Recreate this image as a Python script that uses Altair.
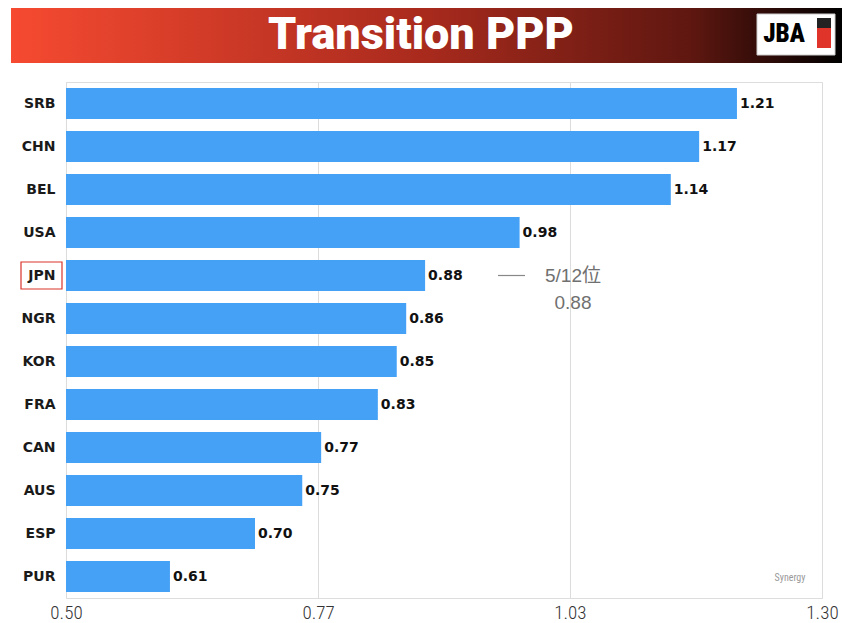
import altair as alt
import pandas as pd

teams = ["SRB", "CHN", "BEL", "USA", "JPN", "NGR", "KOR", "FRA", "CAN", "AUS", "ESP", "PUR"]
values = [1.21, 1.17, 1.14, 0.98, 0.88, 0.86, 0.85, 0.83, 0.77, 0.75, 0.70, 0.61]
x_ticks = [0.50, 0.7667, 1.0333, 1.30]
title_text = "Transition PPP"
highlight = "JPN"
rank_text = "5/12位"
rank_value = "0.88"
source_text = "Synergy"

df = pd.DataFrame({"team": teams, "value": values})
hl = pd.DataFrame({"team": [highlight], "r1": [rank_text], "r2": [rank_value]})
one = pd.DataFrame({"a": [1]})

W, H = 756, 516

yenc = alt.Y("team:N", sort=teams, title=None,
             scale=alt.Scale(paddingInner=0.28, paddingOuter=0.14),
             axis=alt.Axis(ticks=False, domain=False, labelPadding=11,
                           labelFont="DejaVu Sans", labelFontWeight="bold",
                           labelFontSize=14, labelColor="#1a1a1a"))
xenc = alt.X("value:Q", title=None,
             scale=alt.Scale(domain=[0.5, 1.3], nice=False, zero=False),
             axis=alt.Axis(values=x_ticks, format=".2f", ticks=False, domain=False,
                           grid=True, gridColor="#dcdcdc", gridWidth=1,
                           labelFlush=False,
                           labelFont="Roboto Condensed, Liberation Sans Narrow, DejaVu Sans Condensed, Roboto",
                           labelFontWeight=300,
                           labelFontSize=19, labelColor="#333333", labelPadding=5))

bars = alt.Chart(df).mark_bar(color="#45a1f6", clip=True).encode(x=xenc, y=yenc)
labels = alt.Chart(df).mark_text(align="left", baseline="middle", dx=3,
                                 font="DejaVu Sans", fontWeight="bold",
                                 fontSize=14, color="#111").encode(
    x="value:Q", y=alt.Y("team:N", sort=teams), text=alt.Text("value:Q", format=".2f"))

box = alt.Chart(hl).mark_rect(fill="white", fillOpacity=0, stroke="#d9342b",
                              strokeWidth=1.2, height=27).encode(
    y=alt.Y("team:N", sort=teams), x=alt.value(-45), x2=alt.value(-4))

ann_line = alt.Chart(hl).mark_rule(color="#888", strokeWidth=1.2).encode(
    y=alt.Y("team:N", sort=teams), x=alt.value(432), x2=alt.value(459))
ann_t1 = alt.Chart(hl).mark_text(align="center", baseline="middle",
                                 font="Liberation Sans, Noto Sans CJK JP",
                                 fontSize=19, color="#707070").encode(
    y=alt.Y("team:N", sort=teams), x=alt.value(507), text="r1:N")
ann_t2 = alt.Chart(hl).mark_text(align="center", baseline="middle", dy=27,
                                 font="Liberation Sans",
                                 fontSize=19, color="#707070").encode(
    y=alt.Y("team:N", sort=teams), x=alt.value(507), text="r2:N")

src = alt.Chart(one).mark_text(align="center", baseline="middle",
                               font="Roboto Condensed, DejaVu Sans Condensed, Roboto",
                               fontSize=10, color="#999").encode(
    x=alt.value(724), y=alt.value(496), text=alt.value(source_text))

grad = alt.Gradient(gradient="linear", x1=0, x2=1, y1=0, y2=0,
                    stops=[alt.GradientStop(color="#f64a31", offset=0),
                           alt.GradientStop(color="#a82a1d", offset=0.5),
                           alt.GradientStop(color="#5e1710", offset=0.82),
                           alt.GradientStop(color="#000000", offset=1)])
banner = alt.Chart(one).mark_rect(color=grad).encode(
    x=alt.value(-55), x2=alt.value(776), y=alt.value(-75), y2=alt.value(-19))
title = alt.Chart(one).mark_text(align="center", baseline="middle", font="Roboto",
                                 fontWeight=900, fontSize=45, color="white").encode(
    x=alt.value(355), y=alt.value(-47), text=alt.value(title_text))
logo_bg = alt.Chart(one).mark_rect(color="white", stroke="#ccc").encode(
    x=alt.value(691), x2=alt.value(769), y=alt.value(-68), y2=alt.value(-27))
logo_t = alt.Chart(one).mark_text(align="center", baseline="middle",
                                  font="Roboto Condensed, Roboto",
                                  fontWeight=900, fontSize=25, color="black").encode(
    x=alt.value(718), y=alt.value(-48), text=alt.value("JBA"))
shield_top = alt.Chart(one).mark_rect(color="#222").encode(
    x=alt.value(751), x2=alt.value(765), y=alt.value(-64), y2=alt.value(-54))
shield_bot = alt.Chart(one).mark_rect(color="#e0332a").encode(
    x=alt.value(751), x2=alt.value(765), y=alt.value(-54), y2=alt.value(-34))

chart = alt.layer(bars, labels, box, ann_line, ann_t1, ann_t2, src,
                  banner, title, logo_bg, logo_t, shield_top, shield_bot).properties(
    width=W, height=H,
    padding={"left": 58, "top": 74, "right": 22, "bottom": 25},
    autosize=alt.AutoSizeParams(type="none"),
).configure_view(stroke="#999999", strokeWidth=1.5).configure(background="white")

chart.save("out.html", embed_options={"renderer": "svg", "actions": False})
